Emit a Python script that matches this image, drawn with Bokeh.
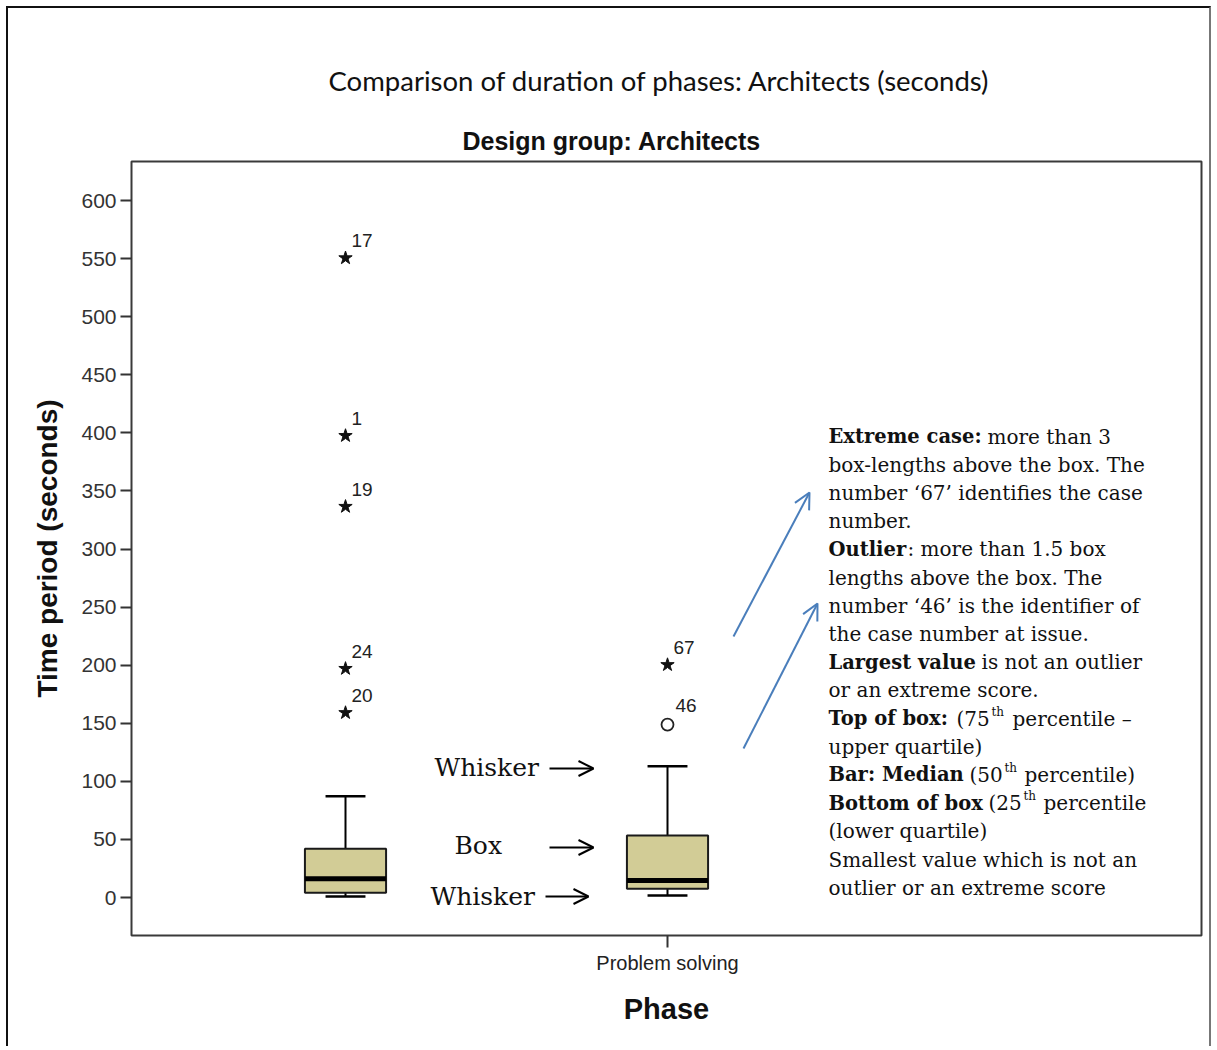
from bokeh.plotting import figure
from bokeh.models import (ColumnDataSource, Range1d, FixedTicker, Label, LabelSet,
                          Arrow, OpenHead, Title)
from bokeh.transform import dodge
from bokeh.core.properties import value
from bokeh.embed import file_html
from bokeh.resources import INLINE

# ---------------- data ----------------
phase_x = [1, 2]
tick_labels = {2: "Problem solving"}
lower_whisker = [0.9, 1.7]
q1 = [4.0, 7.5]
median = [16.1, 14.6]
q3 = [41.9, 53.4]
upper_whisker = [87.2, 113.0]

extreme_x = [1, 1, 1, 1, 1, 2]
extreme_y = [550.5, 397.5, 336.5, 197.0, 159.0, 200.3]
extreme_id = ["17", "1", "19", "24", "20", "67"]

outlier_x = [2]
outlier_y = [148.9]
outlier_id = ["46"]

y_ticks = [0, 50, 100, 150, 200, 250, 300, 350, 400, 450, 500, 550, 600]

# ------------- page geometry helpers (page pixels -> data) -------------
PX_PER_X = 322.0
X1_PX = 345.0
PX_PER_Y = 697.0 / 600.0
Y0_PX = 897.0
FRAME_LEFT = 131


def X(px):
    return 1 + (px - X1_PX) / PX_PER_X


def Y(py):
    return (Y0_PX - py) / PX_PER_Y


W, H = 1205, 1040
p = figure(width=W, height=H, output_backend="svg", toolbar_location=None,
           x_range=Range1d(X(131), X(1201)), y_range=Range1d(Y(935), Y(161)),
           min_border_left=123, min_border_right=12, min_border_top=153,
           min_border_bottom=113)
p.styles = {"border-top": "2px solid #111", "border-left": "2px solid #111",
            "border-right": "2px solid #777", "margin-left": "6px", "margin-top": "6px"}
p.background_fill_color = "white"
p.border_fill_color = "white"
p.outline_line_color = "#3a3a3a"
p.outline_line_width = 2
p.xgrid.visible = False
p.ygrid.visible = False

# titles
p.add_layout(Title(text="Design group: Architects", align="left", offset=462 - FRAME_LEFT,
                   text_font="Liberation Sans", text_font_style="bold",
                   text_font_size="25px", text_color="#111111", standoff=13), "above")
p.add_layout(Title(text="Comparison of duration of phases: Architects (seconds)",
                   align="left", offset=328 - FRAME_LEFT, text_font="Lato",
                   text_font_style="normal", text_font_size="27.5px",
                   text_color="#111111", standoff=44), "above")

# axes
p.yaxis.ticker = FixedTicker(ticks=y_ticks)
p.yaxis.axis_line_color = None
p.yaxis.major_tick_out = 11
p.yaxis.major_tick_in = 0
p.yaxis.minor_tick_line_color = None
p.yaxis.major_tick_line_width = 2
p.yaxis.major_tick_line_color = "#333333"
p.yaxis.major_label_text_font = "Liberation Sans"
p.yaxis.major_label_text_font_size = "21px"
p.yaxis.major_label_text_color = "#333333"
p.yaxis.major_label_standoff = 4
p.yaxis.axis_label = "Time period (seconds)"
p.yaxis.axis_label_text_font = "Liberation Sans"
p.yaxis.axis_label_text_font_style = "bold"
p.yaxis.axis_label_text_font_size = "28px"
p.yaxis.axis_label_text_color = "#111111"
p.yaxis.axis_label_standoff = 15

p.xaxis.ticker = FixedTicker(ticks=list(tick_labels.keys()))
p.xaxis.major_label_overrides = tick_labels
p.xaxis.axis_line_color = None
p.xaxis.major_tick_out = 12
p.xaxis.major_tick_in = 0
p.xaxis.minor_tick_line_color = None
p.xaxis.major_tick_line_width = 2
p.xaxis.major_tick_line_color = "#333333"
p.xaxis.major_label_text_font = "Liberation Sans"
p.xaxis.major_label_text_font_size = "20px"
p.xaxis.major_label_text_color = "#222222"
p.xaxis.major_label_standoff = 4
p.xaxis.axis_label = "Phase"
p.xaxis.axis_label_text_font = "Liberation Sans"
p.xaxis.axis_label_text_font_style = "bold"
p.xaxis.axis_label_text_font_size = "29px"
p.xaxis.axis_label_text_color = "#111111"
p.xaxis.axis_label_standoff = 16

# ------------- boxplots -------------
box_src = ColumnDataSource(dict(x=phase_x, lo=lower_whisker, q1=q1, med=median,
                                q3=q3, hi=upper_whisker))
BOX_W = 0.252
CAP_W = 0.124
p.segment(x0="x", y0="q3", x1="x", y1="hi", source=box_src, line_color="black", line_width=2)
p.segment(x0="x", y0="q1", x1="x", y1="lo", source=box_src, line_color="black", line_width=2)
p.vbar(x="x", width=BOX_W, bottom="q1", top="q3", source=box_src,
       fill_color="#d2cc96", line_color="#1a1a1a", line_width=2)
p.segment(x0=dodge("x", -BOX_W / 2), x1=dodge("x", BOX_W / 2), y0="med", y1="med",
          source=box_src, line_color="black", line_width=5)
for col in ("hi", "lo"):
    p.segment(x0=dodge("x", -CAP_W / 2), x1=dodge("x", CAP_W / 2), y0=col, y1=col,
              source=box_src, line_color="black", line_width=2.5)

ext_src = ColumnDataSource(dict(x=extreme_x, y=extreme_y, t=extreme_id))
p.scatter(x="x", y="y", source=ext_src, marker="star", size=14,
          fill_color="#111111", line_color="#111111", line_width=1)
p.add_layout(LabelSet(x="x", y="y", text="t", source=ext_src, x_offset=6, y_offset=11,
                      text_font=value("Liberation Sans"), text_font_size=value("19px"),
                      text_color="#222222", text_baseline="alphabetic"))
out_src = ColumnDataSource(dict(x=outlier_x, y=outlier_y, t=outlier_id))
p.scatter(x="x", y="y", source=out_src, marker="circle", size=12,
          fill_color="white", line_color="#222222", line_width=1.8)
p.add_layout(LabelSet(x="x", y="y", text="t", source=out_src, x_offset=8, y_offset=13,
                      text_font=value("Liberation Sans"), text_font_size=value("19px"),
                      text_color="#222222", text_baseline="alphabetic"))

# ------------- whisker / box call-outs -------------
SERIF = "DejaVu Serif"
for txt, lx, base in [("Whisker", 434, 767), ("Box", 454, 845), ("Whisker", 430, 896)]:
    p.add_layout(Label(x=X(lx), y=Y(base), text=txt, text_font=SERIF, text_font_size="25px",
                       text_baseline="alphabetic", text_color="#111111"))
for x0, x1, yy in [(549, 593, 768), (549, 593, 847), (545, 588, 896)]:
    p.add_layout(Arrow(x_start=X(x0), y_start=Y(yy), x_end=X(x1), y_end=Y(yy),
                       line_color="black", line_width=2,
                       end=OpenHead(size=15, line_color="black", line_width=2)))

# blue pointer arrows
for x0, y0, x1, y1 in [(733, 636, 809, 492), (743, 748, 817, 603)]:
    p.add_layout(Arrow(x_start=X(x0), y_start=Y(y0), x_end=X(x1), y_end=Y(y1),
                       line_color="#4a7ebb", line_width=2,
                       end=OpenHead(size=16, line_color="#4a7ebb", line_width=2)))

# ------------- explanation text -------------
BASE0 = 436.0
STEP = 28.2
LEFT = 828


def seg(line, px, text, bold=False, sup=False):
    base = BASE0 + STEP * line
    if sup:
        base -= 7
    size = "12px" if sup else ("19.5px" if bold else "20px")
    p.add_layout(Label(x=X(px), y=Y(base), text=text, text_font=SERIF,
                       text_font_size=size,
                       text_font_style="bold" if bold else "normal",
                       text_baseline="alphabetic", text_color="#111111"))


seg(0, LEFT, "Extreme case:", bold=True); seg(0, 987, "more than 3")
seg(1, LEFT, "box-lengths above the box. The")
seg(2, LEFT, "number \u201867\u2019 identifies the case")
seg(3, LEFT, "number.")
seg(4, LEFT, "Outlier", bold=True); seg(4, 907, ": more than 1.5 box")
seg(5, LEFT, "lengths above the box. The")
seg(6, LEFT, "number \u201846\u2019 is the identifier of")
seg(7, LEFT, "the case number at issue.")
seg(8, LEFT, "Largest value", bold=True); seg(8, 981, "is not an outlier")
seg(9, LEFT, "or an extreme score.")
seg(10, LEFT, "Top of box:", bold=True); seg(10, 956, "(75"); seg(10, 991, "th", sup=True)
seg(10, 1012, "percentile \u2013")
seg(11, LEFT, "upper quartile)")
seg(12, LEFT, "Bar: Median", bold=True); seg(12, 969, "(50"); seg(12, 1004, "th", sup=True)
seg(12, 1024, "percentile)")
seg(13, LEFT, "Bottom of box", bold=True); seg(13, 988, "(25"); seg(13, 1023, "th", sup=True)
seg(13, 1043, "percentile")
seg(14, LEFT, "(lower quartile)")
seg(15, LEFT, "Smallest value which is not an")
seg(16, LEFT, "outlier or an extreme score")

open("out.html", "w").write(file_html(p, INLINE))
